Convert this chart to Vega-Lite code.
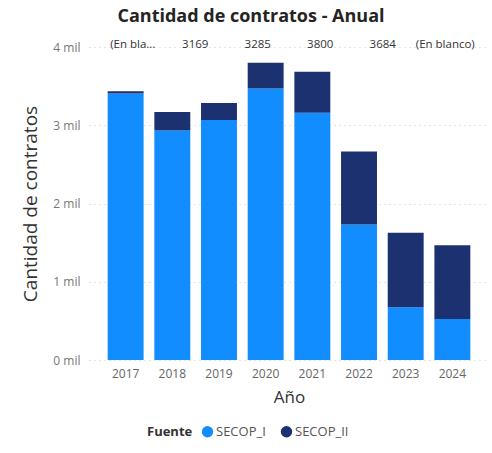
{
  "$schema": "https://vega.github.io/schema/vega-lite/v6.json",
  "width": 400,
  "height": 313,
  "autosize": {"type": "none"},
  "padding": {"left": 89, "top": 47, "right": 3, "bottom": 93},
  "background": "white",
  "title": {
    "text": "Cantidad de contratos - Anual",
    "font": "Open Sans",
    "fontSize": 18,
    "fontWeight": "bold",
    "color": "#252423",
    "anchor": "middle",
    "dx": -38,
    "offset": 13
  },
  "config": {
    "view": {"stroke": null},
    "font": "Open Sans"
  },
  "datasets": {
    "barras": [
      {"Año": "2017", "Fuente": "SECOP_I", "Cantidad": 3405},
      {"Año": "2017", "Fuente": "SECOP_II", "Cantidad": 30},
      {"Año": "2018", "Fuente": "SECOP_I", "Cantidad": 2933},
      {"Año": "2018", "Fuente": "SECOP_II", "Cantidad": 236},
      {"Año": "2019", "Fuente": "SECOP_I", "Cantidad": 3067},
      {"Año": "2019", "Fuente": "SECOP_II", "Cantidad": 218},
      {"Año": "2020", "Fuente": "SECOP_I", "Cantidad": 3470},
      {"Año": "2020", "Fuente": "SECOP_II", "Cantidad": 330},
      {"Año": "2021", "Fuente": "SECOP_I", "Cantidad": 3161},
      {"Año": "2021", "Fuente": "SECOP_II", "Cantidad": 523},
      {"Año": "2022", "Fuente": "SECOP_I", "Cantidad": 1732},
      {"Año": "2022", "Fuente": "SECOP_II", "Cantidad": 931},
      {"Año": "2023", "Fuente": "SECOP_I", "Cantidad": 673},
      {"Año": "2023", "Fuente": "SECOP_II", "Cantidad": 952},
      {"Año": "2024", "Fuente": "SECOP_I", "Cantidad": 523},
      {"Año": "2024", "Fuente": "SECOP_II", "Cantidad": 943}
    ],
    "etiquetas": [
      {"etiqueta": "(En bla..."},
      {"etiqueta": "3169"},
      {"etiqueta": "3285"},
      {"etiqueta": "3800"},
      {"etiqueta": "3684"},
      {"etiqueta": "(En blanco)"}
    ]
  },
  "layer": [
    {
      "data": {"name": "barras"},
      "mark": {"type": "bar"},
      "encoding": {
        "x": {
          "field": "Año",
          "type": "ordinal",
          "scale": {"paddingInner": 0.23, "paddingOuter": 0.4},
          "axis": {
            "title": "Año",
            "titleFont": "Open Sans",
            "titleFontSize": 17,
            "titleFontWeight": "normal",
            "titleColor": "#333333",
            "titlePadding": 10,
            "labelAngle": 0,
            "labelFont": "Open Sans",
            "labelFontSize": 12,
            "labelColor": "#666666",
            "labelPadding": 8,
            "domain": false,
            "ticks": false
          }
        },
        "y": {
          "field": "Cantidad",
          "type": "quantitative",
          "aggregate": "sum",
          "stack": "zero",
          "scale": {"domain": [0, 4000], "nice": false},
          "axis": {
            "title": "Cantidad de contratos",
            "titleFont": "Open Sans",
            "titleFontSize": 19,
            "titleFontWeight": "normal",
            "titleColor": "#333333",
            "titlePadding": 12,
            "values": [0, 1000, 2000, 3000, 4000],
            "labelExpr": "datum.value / 1000 + ' mil'",
            "labelFont": "Open Sans",
            "labelFontSize": 12,
            "labelColor": "#777777",
            "labelPadding": 9,
            "domain": false,
            "ticks": false,
            "grid": true,
            "gridColor": "#c8c8c8",
            "gridDash": [1, 4],
            "gridWidth": 1
          }
        },
        "color": {
          "field": "Fuente",
          "type": "nominal",
          "scale": {"domain": ["SECOP_I", "SECOP_II"], "range": ["#118DFF", "#1C3170"]},
          "legend": {
            "orient": "none",
            "legendX": 58,
            "legendY": 378,
            "direction": "horizontal",
            "title": "Fuente",
            "titleOrient": "left",
            "titleFont": "Open Sans",
            "titleFontSize": 13,
            "titleFontWeight": "bold",
            "titleColor": "#333333",
            "titlePadding": 8,
            "labelFont": "Open Sans",
            "labelFontSize": 13,
            "labelColor": "#555555",
            "labelOffset": 2,
            "symbolType": "circle",
            "symbolSize": 130,
            "symbolStrokeWidth": 0,
            "columnPadding": 14
          }
        },
        "order": {"field": "Fuente", "sort": "ascending"}
      }
    },
    {
      "data": {"name": "etiquetas"},
      "mark": {
        "type": "text",
        "font": "Open Sans",
        "fontSize": 11.5,
        "color": "#333333",
        "baseline": "middle",
        "dy": -2
      },
      "encoding": {
        "x": {
          "field": "etiqueta",
          "type": "nominal",
          "sort": null,
          "scale": {"type": "point", "padding": 0.7},
          "axis": null
        },
        "y": {"datum": 4000},
        "text": {"field": "etiqueta"}
      }
    }
  ],
  "resolve": {"scale": {"x": "independent"}, "axis": {"x": "independent"}}
}
